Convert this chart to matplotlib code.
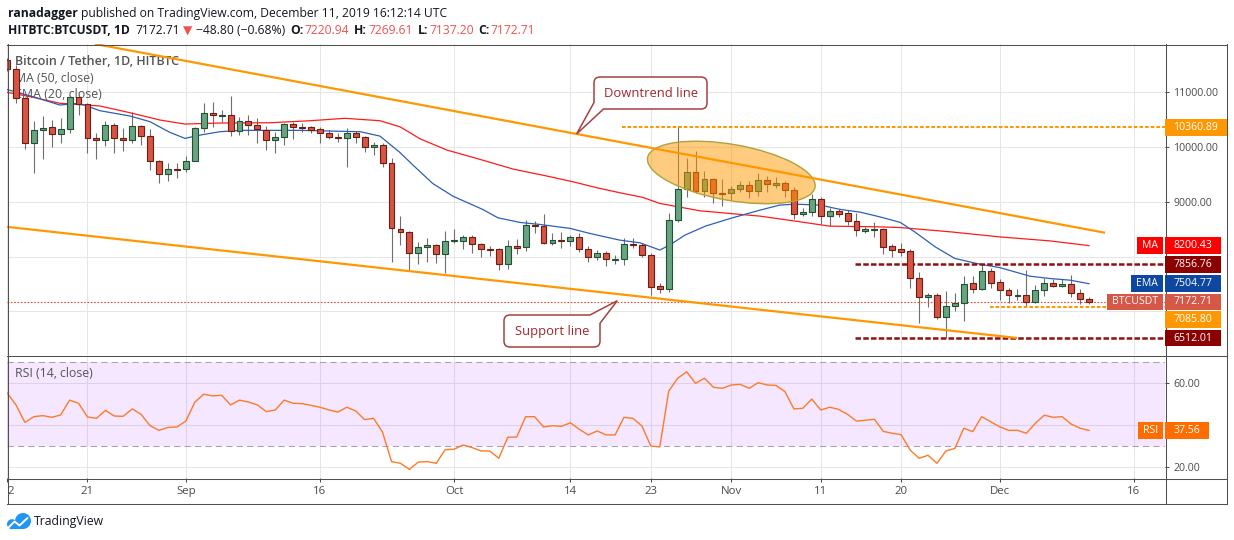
import matplotlib
matplotlib.use('Agg')
import matplotlib.pyplot as plt
import numpy as np
import pandas as pd
from matplotlib.patches import Rectangle, Ellipse, PathPatch, Circle
from matplotlib.path import Path
from matplotlib.lines import Line2D
from matplotlib.transforms import Affine2D, IdentityTransform

plt.rcParams['font.family'] = ['Open Sans', 'DejaVu Sans']

# ---------------- data ----------------
start_date = '2019-08-12'
opens = [11590, 11419, 10902, 10068, 10305, 10360, 10232, 10323, 10920, 10780,
         10159, 10122, 10396, 10159, 10135, 10378, 10202, 9745, 9508, 9600,
         9595, 9745, 10354, 10615, 10579, 10580, 10299, 10469, 10396, 10305,
         10122, 10177, 10415, 10360, 10358, 10323, 10262, 10189, 10159, 10250,
         10177, 9995, 10031, 9702, 8497, 8442, 8059, 8169, 8206, 8041,
         8291, 8291, 8352, 8224, 8133, 8133, 7859, 8187, 8169, 8583,
         8559, 8254, 8303, 8279, 8352, 8145, 7986, 8059, 7950, 7950,
         8230, 8206, 8029, 7463, 7402, 8668, 9228, 9539, 9204, 9411,
         9155, 9155, 9240, 9301, 9204, 9393, 9301, 9338, 9210, 8772,
         8808, 9046, 8735, 8827, 8790, 8644, 8480, 8480, 8504, 8187,
         8133, 8096, 7615, 7256, 7305, 6891, 7098, 7146, 7512, 7402,
         7737, 7530, 7390, 7293, 7293, 7177, 7390, 7512, 7469, 7493,
         7329, 7220.94]
highs = [11620, 11500, 10920, 10475, 10567, 10494, 10524, 10940, 10962, 10810,
         10250, 10475, 10445, 10348, 10640, 10396, 10323, 9760, 9702, 9702,
         9836, 10360, 10798, 10822, 10676, 10932, 10555, 10585, 10524, 10384,
         10281, 10445, 10463, 10445, 10384, 10372, 10311, 10250, 10342, 10299,
         10202, 10098, 10068, 9794, 8741, 8460, 8260, 8333, 8230, 8467,
         8498, 8394, 8394, 8254, 8193, 8163, 8303, 8315, 8668, 8656,
         8778, 8425, 8443, 8394, 8425, 8193, 8120, 8108, 8029, 8333,
         8333, 8242, 8060, 7512, 8790, 10385, 9794, 9928, 9563, 9429,
         9417, 9289, 9387, 9387, 9533, 9472, 9447, 9381, 9265, 8881,
         9137, 9082, 8893, 8863, 8851, 8802, 8546, 8638, 8520, 8230,
         8254, 8139, 7719, 7341, 7329, 7378, 7341, 7646, 7646, 7865,
         7786, 7585, 7433, 7408, 7755, 7481, 7603, 7597, 7585, 7658,
         7402, 7269.61]
lows = [11380, 10798, 9958, 9520, 9775, 10007, 10080, 10262, 10585, 9885,
        9775, 10025, 9885, 9928, 10068, 10037, 9581, 9337, 9380, 9428,
        9538, 9740, 10281, 10372, 10463, 10208, 10220, 10220, 10080, 9946,
        9885, 10037, 10147, 10281, 10250, 10080, 10141, 10098, 9642, 10080,
        9915, 9855, 9629, 7907, 8211, 7736, 7865, 7907, 7889, 7694,
        8242, 8139, 8060, 7999, 8011, 7755, 7767, 8047, 8108, 8425,
        8224, 8212, 8151, 8199, 8090, 7907, 7938, 7828, 7865, 7846,
        8151, 7999, 7299, 7329, 7360, 8638, 9082, 9167, 9082, 8985,
        8930, 9034, 9186, 9076, 9113, 9180, 9259, 9094, 8687, 8741,
        8741, 8595, 8565, 8717, 8571, 8382, 8437, 8364, 8047, 7999,
        8017, 7433, 6781, 7073, 6854, 6519, 7012, 6830, 7341, 7390,
        7420, 7207, 7146, 7207, 7073, 7146, 7280, 7439, 7451, 7268,
        7134, 7137.20]
closes = [11420, 10902, 10068, 10305, 10348, 10232, 10323, 10920, 10780, 10159,
          10122, 10396, 10159, 10135, 10378, 10202, 9745, 9508, 9599, 9595,
          9745, 10342, 10615, 10579, 10583, 10299, 10469, 10396, 10323, 10122,
          10177, 10415, 10360, 10356, 10317, 10262, 10189, 10159, 10250, 10177,
          9995, 10031, 9702, 8515, 8442, 8059, 8169, 8206, 8041, 8291,
          8303, 8352, 8224, 8133, 8130, 7859, 8187, 8163, 8571, 8559,
          8254, 8303, 8279, 8352, 8145, 7986, 8059, 7950, 7952, 8224,
          8206, 8023, 7451, 7402, 8668, 9228, 9539, 9204, 9411, 9155,
          9152, 9228, 9301, 9192, 9393, 9320, 9338, 9210, 8772, 8808,
          9046, 8735, 8827, 8772, 8644, 8480, 8492, 8504, 8181, 8126,
          8090, 7615, 7256, 7305, 6891, 7104, 7146, 7493, 7402, 7737,
          7524, 7390, 7293, 7296, 7177, 7390, 7512, 7469, 7493, 7329,
          7219, 7172.71]
rsi = [55.5, 49.7, 41.4, 44.1, 44.6, 43.8, 44.9, 52.0, 50.5, 44.0,
       43.3, 47.1, 44.4, 44.3, 47.8, 45.2, 39.8, 37.6, 39.0, 39.2,
       42.0, 51.0, 54.8, 54.0, 54.3, 49.7, 52.0, 51.1, 49.7, 46.5,
       47.3, 52.0, 50.5, 50.3, 49.5, 48.6, 47.3, 46.3, 48.6, 46.8,
       42.7, 43.3, 36.7, 22.7, 21.9, 19.0, 22.5, 22.7, 21.9, 28.4,
       28.6, 30.6, 29.4, 27.8, 27.7, 24.3, 34.3, 34.4, 44.1, 44.1,
       39.2, 39.8, 39.5, 41.2, 38.1, 35.4, 37.3, 35.4, 35.4, 43.8,
       43.3, 39.7, 30.1, 29.7, 56.3, 62.4, 65.5, 60.0, 62.4, 58.1,
       57.6, 59.2, 59.5, 57.6, 60.3, 59.2, 59.0, 56.0, 47.8, 48.1,
       52.5, 47.3, 48.6, 47.6, 45.2, 42.0, 42.4, 42.9, 37.1, 36.2,
       35.5, 28.2, 24.3, 25.7, 21.9, 27.8, 29.0, 38.6, 37.0, 44.1,
       41.7, 39.3, 37.6, 37.6, 36.2, 41.0, 44.8, 43.8, 44.1, 40.6,
       38.6, 37.56]
ma_days = [0, 2.6, 5.9, 10.4, 13.75, 17.1, 19.9, 23.8, 29.4, 33.9, 37.8, 41.7,
           43.95, 46.2, 49.2, 52.9, 56.6, 60.4, 63.3, 66.0, 68.55, 71.1, 73.0,
           77.5, 84.2, 88.7, 92.0, 97.6, 99.9, 105.5, 111.0, 116.6, 121.0]
ma_vals = [11000, 10920, 10800, 10750, 10627, 10494, 10420, 10439, 10444, 10481,
           10525, 10481, 10370, 10150, 9945, 9775, 9598, 9470, 9366, 9256, 9165,
           9081, 8971, 8836, 8739, 8635, 8556, 8543, 8530, 8452, 8360, 8287, 8200.43]
ema_days = [0, 0.9, 2.9, 5.9, 8.05, 10.4, 13.75, 16.0, 18.2, 19.9, 21.6, 23.8,
            26.1, 32.8, 36.1, 39.5, 41.7, 43.95, 45.4, 47.6, 49.9, 53.2, 54.9,
            57.4, 59.6, 63.0, 65.2, 68.55, 70.8, 73.0, 74.1, 75.8, 78.1, 80.9,
            84.2, 86.4, 88.1, 90.9, 93.2, 95.4, 97.6, 99.9, 101.5, 103.8, 106.0,
            108.8, 111.0, 114.4, 116.6, 118.9, 121.0]
ema_vals = [11050, 11011, 10920, 10768, 10799, 10664, 10567, 10463, 10269, 10159,
            10219, 10280, 10305, 10305, 10293, 10280, 10201, 9900, 9671, 9336,
            9100, 8861, 8708, 8623, 8587, 8514, 8422, 8300, 8251, 8120, 8209,
            8391, 8556, 8697, 8848, 8940, 8958, 8940, 8861, 8812, 8726, 8624,
            8452, 8178, 7966, 7861, 7800, 7642, 7600, 7569, 7504.77]
tick_dates = ['2019-08-12', '2019-08-21', '2019-09-01', '2019-09-16', '2019-10-01',
              '2019-10-14', '2019-10-23', '2019-11-01', '2019-11-11', '2019-11-20',
              '2019-12-01', '2019-12-16']
tick_labels = ['2', '21', 'Sep', '16', 'Oct', '14', '23', 'Nov', '11', '20', 'Dec', '16']
price_ticks = [7000, 8000, 9000, 10000, 11000]
price_tick_labels = ['', '', '9000.00', '10000.00', '11000.00']
rsi_ticks = [20, 40, 60]
rsi_tick_labels = ['20.00', '', '60.00']
levels = [10360.89, 7856.76, 7085.80, 6512.01]
downtrend_days = [9.84, 122.8]
downtrend_prices = [11883, 8435]
support_days = [0, 112.95]
support_prices = [8543, 6514]

# ---------------- figure ----------------
W, H = 1234, 540
fig = plt.figure(figsize=(W / 100, H / 100), dpi=100)
fig.patch.set_facecolor('white')
PX = Affine2D().scale(1, -1).translate(0, H)   # image pixel coords (y down) -> display
R = fig.canvas.get_renderer()

L, RGT = 7, 1165
ax = fig.add_axes([L / W, 1 - 355 / H, (RGT - L) / W, (355 - 44) / H])
rax = fig.add_axes([L / W, 1 - 478 / H, (RGT - L) / W, (478 - 356) / H])

t0 = pd.Timestamp(start_date)
tick_pos = [(pd.Timestamp(d) - t0).days for d in tick_dates]
x = np.arange(len(closes))
XMAX = 129.5

GRID = '#e6e6e6'
AXC = '#4a4a4a'
for a in (ax, rax):
    a.set_xlim(0, XMAX)
    a.set_xticks(tick_pos)
    a.set_axisbelow(True)
    a.grid(True, color=GRID, lw=0.75)
    for s in a.spines.values():
        s.set_visible(False)
    a.set_facecolor('none')

ax.set_ylim(6203, 11882)
rax.set_ylim(14.9, 73.0)
ax.set_yticks(price_ticks)
ax.set_yticklabels(price_tick_labels)
rax.set_yticks(rsi_ticks)
rax.set_yticklabels(rsi_tick_labels)
for a in (ax, rax):
    a.yaxis.tick_right()
    a.tick_params(axis='y', direction='out', length=3, width=0.75, color=AXC,
                  labelsize=7.6, labelcolor=AXC, pad=3)
ax.tick_params(axis='x', length=0, labelbottom=False)
rax.set_xticklabels(tick_labels)
rax.tick_params(axis='x', direction='out', length=3, width=0.75, color=AXC,
                labelsize=8.2, labelcolor=AXC, pad=3)
rax.get_xticklabels()[0].set_horizontalalignment('left')

# ---------------- candles ----------------
o = np.array(opens, float); h = np.array(highs, float)
l = np.array(lows, float); c = np.array(closes, float)
up = c >= o
minh = 20.0
body_h = np.maximum(np.abs(c - o), minh)
body_lo = (o + c) / 2 - body_h / 2
ax.vlines(x, l, h, color='#6e6e6e', lw=0.8, zorder=2)
ax.bar(x[up], body_h[up], bottom=body_lo[up], width=0.66, color='#67a47f',
       edgecolor='#1f5132', linewidth=0.8, zorder=3)
ax.bar(x[~up], body_h[~up], bottom=body_lo[~up], width=0.66, color='#d75442',
       edgecolor='#6e1d14', linewidth=0.8, zorder=3)

# moving averages
ax.plot(ma_days, ma_vals, color='#ff1a1a', lw=0.9, zorder=2.5)
ax.plot(ema_days, ema_vals, color='#2d5fb8', lw=0.9, zorder=2.5)

# current price line
ax.axhline(closes[-1], color='#e04a3a', lw=0.8, ls=(0, (1.5, 1.5)), zorder=2.2)

# horizontal levels
level_start = [68.8, 94.8, 109.9, 94.8]
level_col = ['#ff9800', '#8e1010', '#ff9800', '#8e1010']
for v, s0, col in zip(levels, level_start, level_col):
    if col == '#ff9800':
        ax.hlines(v, s0, XMAX, color=col, lw=1.5, linestyles=[(0, (1.7, 1.0))], zorder=2.6)
    else:
        ax.hlines(v, s0, XMAX, color=col, lw=1.8, linestyles=[(0, (2.2, 0.9))], zorder=2.6)

# trend lines
ax.plot(downtrend_days, downtrend_prices, color='#ff9800', lw=1.6, zorder=4,
        solid_capstyle='butt')
ax.plot(support_days, support_prices, color='#ff9800', lw=1.6, zorder=4,
        solid_capstyle='butt')

# ellipse highlight
ecx, ecy = ax.transData.transform((81.0, 9536))
ax.add_patch(Ellipse((ecx, ecy), width=170, height=56, angle=-10,
                     transform=IdentityTransform(), fc=(1, 0.6, 0, 0.5),
                     ec='#b3a03a', lw=1.0, zorder=3.6))

# ---------------- RSI ----------------
rax.axhspan(30, 70, color='#9915ff', alpha=0.1, lw=0, zorder=1)
for lv in (30, 70):
    rax.axhline(lv, color='#a8a0b0', lw=0.75, ls=(0, (6, 4)), zorder=1.2)
rax.plot(x, rsi, color='#ff7a26', lw=1.0, zorder=3)


# ---------------- helpers ----------------
def put_rich(x0, base, pieces, fs, target=None, container=None, zorder=3):
    def build(size, k):
        arts = []
        cx = x0
        for s, col, wt, gap in pieces:
            cx += gap * k
            if container is None:
                t = fig.text(cx, base, s, transform=PX, color=col, fontweight=wt,
                             fontsize=size, va='baseline', ha='left', zorder=zorder)
            else:
                t = container.text(cx, base, s, transform=PX, color=col, fontweight=wt,
                                   fontsize=size, va='baseline', ha='left',
                                   zorder=zorder, clip_on=False)
            cx += t.get_window_extent(R).width
            arts.append(t)
        return arts, cx
    arts, cx = build(fs, 1.0)
    if target is not None:
        k = target / (cx - x0)
        for t in arts:
            t.remove()
        arts, cx = build(fs * k, k)
    return arts


def hline_px(x0, x1, y, col='#505050', lw=0.75):
    fig.add_artist(Line2D([x0, x1], [y, y], transform=PX, color=col, lw=lw, zorder=4))


def vline_px(xx, y0, y1, col='#505050', lw=0.75):
    fig.add_artist(Line2D([xx, xx], [y0, y1], transform=PX, color=col, lw=lw, zorder=4))


def img_y(a, v):
    return H - a.transData.transform((0, v))[1]


def tag(yc, s, col, left=None, fs=7.6, hh=16.5):
    t = fig.text(0, 0, s, transform=PX, fontsize=fs)
    w = t.get_window_extent(R).width + 17
    t.remove()
    fig.add_artist(Rectangle((1165, yc - hh / 2), w, hh, transform=PX, fc=col,
                             ec='none', zorder=6))
    fig.text(1165 + w / 2, yc, s, transform=PX, fontsize=fs, color='white',
             ha='center', va='center', zorder=7)
    if left:
        t = fig.text(0, 0, left, transform=PX, fontsize=fs)
        w2 = t.get_window_extent(R).width + 10
        t.remove()
        fig.add_artist(Rectangle((1163.3 - w2, yc - hh / 2), w2, hh, transform=PX,
                                 fc=col, ec='none', zorder=6))
        fig.text(1163.3 - w2 / 2, yc, left, transform=PX, fontsize=fs, color='white',
                 ha='center', va='center', zorder=7)


# ---------------- header ----------------
DARK = '#131722'
RED = '#ef5350'
put_rich(8, 16.7, [('ranadagger', DARK, 'bold', 0),
                   ('published on TradingView.com, December 11, 2019 16:12:14 UTC', DARK, 'normal', 3.5)],
         8.8, target=439)
put_rich(8, 34.5, [('HITBTC:BTCUSDT, 1D', DARK, 'bold', 0),
                   (f'{closes[-1]:.2f}', DARK, 'normal', 6),
                   ('▼', RED, 'normal', 2.5),
                   ('\u221248.80 (\u22120.68%)', DARK, 'normal', 3.5),
                   ('O:', DARK, 'bold', 5), (f'{opens[-1]:.2f}', RED, 'normal', 1),
                   ('H:', DARK, 'bold', 5), (f'{highs[-1]:.2f}', RED, 'normal', 1),
                   ('L:', DARK, 'bold', 5), (f'{lows[-1]:.2f}', RED, 'normal', 1),
                   ('C:', DARK, 'bold', 5), (f'{closes[-1]:.2f}', RED, 'normal', 1)],
         8.8, target=532)

# legend in pane
LEG = '#555555'
put_rich(15, 65, [('Bitcoin / Tether, 1D, HITBTC', LEG, 'semibold', 0)], 9, target=164,
         container=ax, zorder=1.5)
put_rich(15, 81.5, [('MA (50, close)', LEG, 'normal', 0)], 9, target=79,
         container=ax, zorder=1.5)
put_rich(15, 98.5, [('EMA (20, close)', LEG, 'normal', 0)], 9, target=87,
         container=ax, zorder=1.5)
put_rich(15, 377, [('RSI (14, close)', LEG, 'normal', 0)], 9, target=78,
         container=rax, zorder=1.5)

# ---------------- callouts ----------------
CEDGE = '#a8403f'
CTEXT = '#a3262b'


def callout(verts_codes):
    verts, codes = zip(*verts_codes)
    p = PathPatch(Path(verts, codes), transform=PX, fc='white', ec=CEDGE, lw=1.1,
                  zorder=5)
    fig.add_artist(p)


M, Ln, C3, CL = Path.MOVETO, Path.LINETO, Path.CURVE3, Path.CLOSEPOLY
# downtrend callout
tipd = ax.transData.transform((63.7, np.interp(63.7, downtrend_days, downtrend_prices)))
tip1 = (tipd[0], H - tipd[1])
x0, y0, x1, y1, r = 594, 77, 707, 109, 6
callout([((x0 + r, y0), M), ((x1 - r, y0), Ln), ((x1, y0), C3), ((x1, y0 + r), C3),
         ((x1, y1 - r), Ln), ((x1, y1), C3), ((x1 - r, y1), C3), ((603.5, y1), Ln),
         (tip1, Ln), ((x0, 102.5), Ln), ((x0, y0 + r), Ln), ((x0, y0), C3),
         ((x0 + r, y0), C3), ((x0 + r, y0), CL)])
fig.text((x0 + x1) / 2, (y0 + y1) / 2 + 0.5, 'Downtrend line', transform=PX,
         color=CTEXT, fontsize=9.4, ha='center', va='center', zorder=6)
# support callout
tips = ax.transData.transform((68.25, 7195))
tip2 = (tips[0], H - tips[1])
x0, y0, x1, y1, r = 504, 315, 600, 347, 6
callout([((x0 + r, y0), M), ((590, y0), Ln), (tip2, Ln), ((x1, 323.3), Ln),
         ((x1, y1 - r), Ln), ((x1, y1), C3), ((x1 - r, y1), C3), ((x0 + r, y1), Ln),
         ((x0, y1), C3), ((x0, y1 - r), C3), ((x0, y0 + r), Ln), ((x0, y0), C3),
         ((x0 + r, y0), C3), ((x0 + r, y0), CL)])
fig.text((x0 + x1) / 2, (y0 + y1) / 2 + 0.5, 'Support line', transform=PX,
         color=CTEXT, fontsize=9.4, ha='center', va='center', zorder=6)

# ---------------- frame ----------------
FR = '#505050'
hline_px(7, 1227, 44.5, FR)
hline_px(7, 1227, 355.5, FR)
hline_px(7, 1227, 478.5, FR)
hline_px(7, 1227, 503.5, FR)
vline_px(7.5, 44, 503.5, FR)
vline_px(1165.5, 44, 503.5, FR)
vline_px(1226.5, 44, 503.5, FR)

# ---------------- right-axis tags ----------------
tag(img_y(ax, levels[0]), f'{levels[0]:.2f}', '#ff9800')
tag(img_y(ax, ma_vals[-1]), f'{ma_vals[-1]:.2f}', '#ff0000', left='MA')
tag(img_y(ax, levels[1]), f'{levels[1]:.2f}', '#8b0000')
tag(img_y(ax, ema_vals[-1]), f'{ema_vals[-1]:.2f}', '#0d47a1', left='EMA')
tag(img_y(ax, closes[-1]), f'{closes[-1]:.2f}', '#d65745', left='BTCUSDT')
tag(img_y(ax, levels[2]) + 13, f'{levels[2]:.2f}', '#ff9800')
tag(img_y(ax, levels[3]), f'{levels[3]:.2f}', '#8b0000')
tag(img_y(rax, rsi[-1]), f'{rsi[-1]:.2f}', '#ff6d00', left='RSI')

# ---------------- logo ----------------
BLUE = '#2196f3'
fig.add_artist(Circle((23, 521), 8, transform=PX, fc=BLUE, ec='none', zorder=3))
fig.add_artist(Circle((12, 524.2), 5, transform=PX, fc=BLUE, ec='none', zorder=3))
fig.add_artist(Rectangle((12, 522), 12, 7.2, transform=PX, fc=BLUE, ec='none', zorder=3))
fig.add_artist(Line2D([8.5, 14.5, 19.5, 27.5], [527.5, 521.5, 525.5, 518], transform=PX,
                      color='white', lw=1.4, zorder=4, solid_capstyle='round'))
put_rich(34, 525, [('TradingView', DARK, 'normal', 0)], 10, target=70)

fig.savefig('out.png', dpi=100, facecolor='white')
